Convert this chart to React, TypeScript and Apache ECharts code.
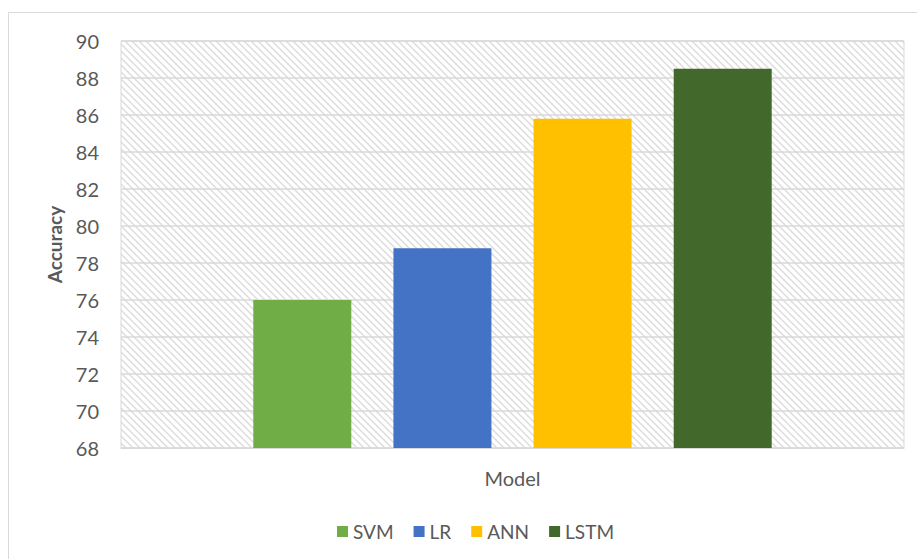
import React, { useEffect, useRef } from "react";
import * as echarts from "echarts";

const categories = ["Model"];
const seriesNames = ["SVM", "LR", "ANN", "LSTM"];
const accuracy = [76.0, 78.8, 85.8, 88.5];
const seriesColors = ["#70AD47", "#4472C4", "#FFC000", "#43682B"];
const yTicks = { min: 68, max: 90, step: 2 };

// small tile with a downward diagonal stripe, repeated across the plot area
function hatchTile(): string {
  const s = 7;
  const svg =
    `<svg xmlns="http://www.w3.org/2000/svg" width="${s}" height="${s}">` +
    `<g stroke="#dcdcdc" stroke-width="1.4">` +
    `<line x1="-1" y1="-1" x2="${s + 1}" y2="${s + 1}"/>` +
    `<line x1="-1" y1="${s - 1}" x2="1" y2="${s + 1}"/>` +
    `<line x1="${s - 1}" y1="-1" x2="${s + 1}" y2="1"/>` +
    `</g></svg>`;
  return "data:image/svg+xml;charset=utf-8," + encodeURIComponent(svg);
}

export default function App() {
  const ref = useRef<HTMLDivElement>(null);

  useEffect(() => {
    if (!ref.current) return;
    const chart = echarts.init(ref.current, null, { renderer: "svg" });
    const font = "Lato, 'Open Sans', sans-serif";
    const gray = "#595959";
    const lineGray = "#d9d9d9";

    chart.setOption({
      animation: false,
      backgroundColor: "#ffffff",
      textStyle: { fontFamily: font },
      graphic: [
        {
          type: "rect",
          shape: { x: 8.5, y: 12.5, width: 940, height: 580 },
          style: { fill: "none", stroke: lineGray, lineWidth: 1 },
          silent: true,
          z: -1,
        },
      ],
      grid: {
        left: 121,
        top: 41,
        right: 13,
        bottom: 111,
        show: true,
        borderColor: lineGray,
        borderWidth: 1,
        backgroundColor: { image: hatchTile(), repeat: "repeat" },
      },
      legend: {
        data: seriesNames,
        left: 332,
        top: 517,
        icon: "rect",
        itemWidth: 11,
        itemHeight: 11,
        itemGap: 20,
        textStyle: { color: gray, fontSize: 19, fontFamily: font },
      },
      xAxis: {
        type: "category",
        data: categories,
        axisLine: { show: true, lineStyle: { color: lineGray, width: 1 } },
        axisTick: { show: false },
        axisLabel: { color: gray, fontSize: 20, margin: 20, fontFamily: font },
        splitLine: { show: false },
      },
      yAxis: {
        type: "value",
        min: yTicks.min,
        max: yTicks.max,
        interval: yTicks.step,
        name: "Accuracy",
        nameLocation: "middle",
        nameGap: 57,
        nameTextStyle: {
          color: gray,
          fontSize: 19,
          fontWeight: "bold",
          fontFamily: font,
        },
        axisLine: { show: false },
        axisTick: { show: false },
        axisLabel: { color: gray, fontSize: 20, margin: 22, fontFamily: font },
        splitLine: { show: true, lineStyle: { color: lineGray, width: 1.5 } },
      },
      series: seriesNames.map((name, i) => ({
        name,
        type: "bar",
        data: [accuracy[i]],
        barWidth: 98,
        barGap: "43%",
        itemStyle: { color: seriesColors[i] },
      })),
    });

    return () => chart.dispose();
  }, []);

  return (
    <div
      ref={ref}
      style={{ position: "absolute", left: 0, top: 0, width: 917, height: 559 }}
    />
  );
}
